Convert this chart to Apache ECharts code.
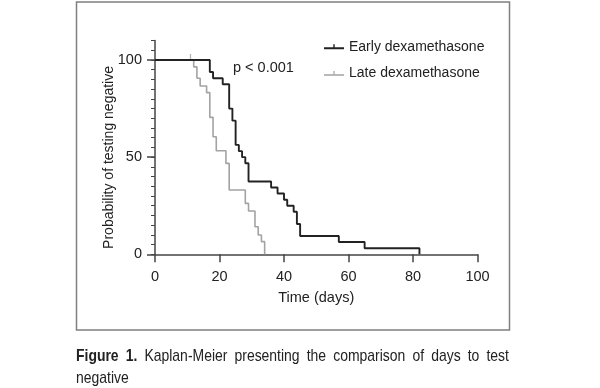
<!DOCTYPE html>
<html>
<head>
<meta charset="utf-8">
<script src="https://cdn.jsdelivr.net/npm/echarts@6/dist/echarts.min.js"></script>
<style>
  html, body { margin: 0; padding: 0; background: #fff; }
  #wrap { position: relative; width: 600px; height: 388px; overflow: hidden; }
  #chart { position: absolute; left: 0; top: 0; width: 600px; height: 388px; }
  .cap { position: absolute; left: 76px; width: 528px; transform: scaleX(0.82); transform-origin: 0 0; font-family: "Liberation Sans", Arial, sans-serif; font-size: 17px; color: #222; white-space: nowrap; }
  #cap1 { top: 346px; text-align: justify; text-align-last: justify; }
  #cap2 { top: 368px; }
</style>
</head>
<body>
<div id="wrap">
  <div id="chart"></div>
  <div class="cap" id="cap1"><b>Figure 1.</b> Kaplan-Meier presenting the comparison of days to test</div>
  <div class="cap" id="cap2">negative</div>
</div>
<script>
// Kaplan-Meier step data: [day, probability (%)]
var earlyDays = [0, 17, 18, 21, 23, 24, 25, 26, 27, 28, 29, 36, 38, 40, 41, 43, 44, 45, 57, 65, 82];
var earlyProb = [100, 93.8, 90.6, 87.5, 75, 68.8, 56.3, 53.1, 50, 46.9, 37.5, 34.4, 31.3, 28.1, 25, 21.9, 15.6, 9.4, 6.3, 3.1, 0];
var lateDays = [0, 12, 13, 14, 16, 17, 18, 19, 22, 23, 28, 29, 31, 32, 33, 34];
var lateProb = [100, 96.5, 90.6, 86.6, 83.2, 70.5, 60.5, 53.3, 46.8, 33.1, 26.2, 22.3, 14.2, 9.9, 6.5, 0];
var lateCensorDays = [11];
var lateCensorProb = [100];
var xTicks = [0, 20, 40, 60, 80, 100];
var yLabels = [0, 50, 100];
var seriesNames = ['Early dexamethasone', 'Late dexamethasone'];

function zip(a, b) { return a.map(function (v, i) { return [v, b[i]]; }); }

var FONT = '"Liberation Sans", Arial, sans-serif';
var TXT = '#222';
var AX = '#444';
var DARK = '#222';
var GREY = '#a3a3a3';

var chart = echarts.init(document.getElementById('chart'), null, { renderer: 'canvas' });

var option = {
  animation: false,
  backgroundColor: '#fff',
  textStyle: { fontFamily: FONT, color: TXT },
  grid: { left: 155, right: 122.5, top: 40.6, bottom: 133.7, containLabel: false },
  xAxis: {
    type: 'value', min: 0, max: 100, interval: 20,
    name: 'Time (days)', nameLocation: 'middle', nameGap: 36,
    nameTextStyle: { fontFamily: FONT, fontSize: 14.5, color: TXT },
    axisLine: { show: true, lineStyle: { color: AX, width: 1.5 } },
    axisTick: { show: true, inside: false, length: 8, lineStyle: { color: AX, width: 1.5 }, customValues: xTicks },
    axisLabel: { show: true, margin: 15, fontFamily: FONT, fontSize: 14.5, color: TXT, customValues: xTicks },
    splitLine: { show: false }
  },
  yAxis: [
    {
      type: 'value', min: 0, max: 110, interval: 5,
      name: 'Probability of testing negative', nameLocation: 'middle', nameGap: 39, nameRotate: 90,
      nameMoveOverlap: false,
      nameTextStyle: { fontFamily: FONT, fontSize: 14, color: TXT, padding: [0, 20, 0, 0] },
      axisLine: { show: true, lineStyle: { color: AX, width: 1.5 } },
      axisTick: { show: true, length: 4, lineStyle: { color: AX, width: 1 } },
      axisLabel: { show: true, margin: 13, fontFamily: FONT, fontSize: 14.5, color: TXT, customValues: yLabels },
      splitLine: { show: false }
    },
    {
      type: 'value', min: 0, max: 110, position: 'left', offset: 0,
      axisLine: { show: false },
      axisTick: { show: true, length: 8, lineStyle: { color: AX, width: 1.5 }, customValues: yLabels },
      axisLabel: { show: false },
      splitLine: { show: false }
    }
  ],
  legend: {
    show: true, orient: 'vertical', left: 324, top: 38.7, padding: 0,
    itemWidth: 20, itemHeight: 8, itemGap: 10.6,
    textStyle: { fontFamily: FONT, fontSize: 14, color: TXT, lineHeight: 16 },
    data: [
      { name: seriesNames[0], icon: 'path://M0,3.1h20v1.8h-20z M9.3,0h1.4v4h-1.4z', itemStyle: { color: DARK } },
      { name: seriesNames[1], icon: 'path://M0,3.3h20v1.4h-20z M9.4,0h1.2v4h-1.2z', itemStyle: { color: GREY } }
    ]
  },
  graphic: [
    {
      type: 'rect', silent: true, z: 100,
      shape: { x: 76.5, y: 2, width: 433, height: 328 },
      style: { fill: 'none', stroke: '#7f7f7f', lineWidth: 1.5 }
    },
    {
      type: 'text', left: 233, top: 60, silent: true,
      style: { text: 'p < 0.001', font: '14.5px ' + FONT, fill: TXT }
    }
  ],
  series: [
    {
      name: seriesNames[1], type: 'line', step: 'end', yAxisIndex: 0,
      data: zip(lateDays, lateProb), showSymbol: false, symbol: 'none',
      lineStyle: { color: GREY, width: 1.6 }, itemStyle: { color: GREY }, z: 2
    },
    {
      name: seriesNames[1] + ' censored', type: 'scatter', yAxisIndex: 0,
      data: zip(lateCensorDays, lateCensorProb),
      symbol: 'rect', symbolSize: [1.3, 6], symbolOffset: [0, -3],
      itemStyle: { color: GREY }, z: 2
    },
    {
      name: seriesNames[0], type: 'line', step: 'end', yAxisIndex: 0,
      data: zip(earlyDays, earlyProb), showSymbol: false, symbol: 'none',
      lineStyle: { color: DARK, width: 1.9 }, itemStyle: { color: DARK }, z: 3
    }
  ]
};
chart.setOption(option);
</script>
</body>
</html>
